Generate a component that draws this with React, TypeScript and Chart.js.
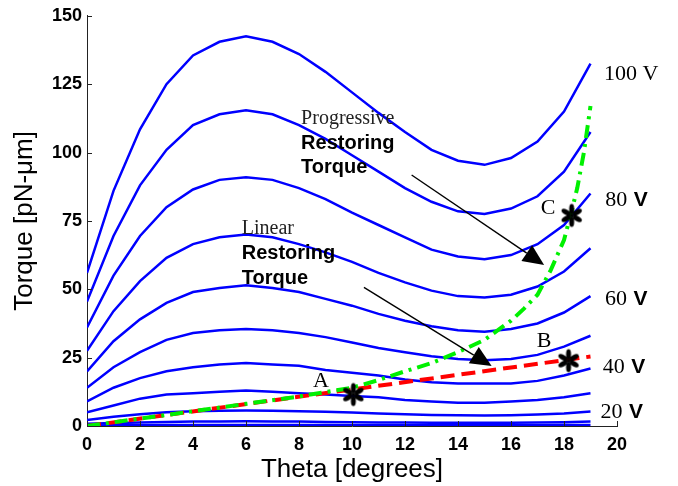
import React, { useEffect, useRef } from 'react';
import { Chart, registerables } from 'chart.js';
Chart.register(...registerables);

// ---- data ----
const THETA = [0, 1, 2, 3, 4, 5, 6, 7, 8, 9, 10, 11, 12, 13, 14, 15, 16, 17, 18, 19];
const T100 = [56, 86, 108.5, 125, 135.5, 140.5, 142.5, 140.5, 136, 129.5, 122, 114.5, 107.5, 101, 97, 95.5, 98, 104, 115, 132.5];
const T90 = [45.5, 69.5, 88, 101, 110, 114, 115.5, 114, 110, 105, 99, 93, 87, 82, 78.5, 77.5, 79.5, 84, 93, 107.5];
const T80 = [36, 55, 69.5, 80, 86.5, 90, 91, 90, 87, 83, 78, 73.5, 69, 64.5, 62, 61, 62.5, 66.5, 73.5, 85];
const T70 = [27.5, 42, 53, 61.5, 66.5, 69, 70, 69, 66.5, 63.5, 60, 56, 52.5, 49.5, 47.5, 47, 48, 51, 56.5, 65];
const T60 = [20, 31, 39, 45, 49, 50.5, 51.5, 50.5, 49, 46.5, 44, 41, 38.5, 36.5, 35, 34.5, 35.5, 37.5, 41.5, 47.5];
const T50 = [14, 21.5, 27, 31.5, 34, 35, 35.5, 35, 34, 32.5, 30.5, 28.5, 27, 25.5, 24.5, 24, 24.5, 26, 29, 33];
const T40 = [9, 14, 17.5, 20, 21.5, 22.5, 23, 22.5, 22, 20.5, 19.5, 18.5, 17, 16, 15.5, 15.5, 15.5, 16.5, 18.5, 21];
const T30 = [5, 7.5, 10, 11.5, 12, 12.5, 13, 12.5, 12, 11.5, 11, 10.5, 9.5, 9, 8.5, 8.5, 9, 9.5, 10.5, 12];
const T20 = [2.2, 3.4, 4.3, 5, 5.4, 5.6, 5.7, 5.6, 5.4, 5.2, 4.9, 4.6, 4.3, 4, 3.9, 3.8, 3.9, 4.2, 4.6, 5.3];
const T10 = [0.8, 1.1, 1.3, 1.5, 1.6, 1.6, 1.7, 1.6, 1.6, 1.5, 1.4, 1.3, 1.3, 1.2, 1.2, 1.2, 1.2, 1.3, 1.4, 1.6];
const T5 = [0.2, 0.3, 0.3, 0.4, 0.4, 0.4, 0.4, 0.4, 0.4, 0.4, 0.3, 0.3, 0.3, 0.3, 0.3, 0.3, 0.3, 0.3, 0.4, 0.4];

const LINEAR_X = [0, 19];
const LINEAR_Y = [0, 25.4];
const PROG_X = [0, 2, 4, 6, 8, 10, 11, 12, 13, 14, 15, 16, 16.5, 17, 17.5, 18, 18.3, 18.5, 18.75, 19];
const PROG_Y = [0, 2.7, 5.4, 8.1, 10.8, 14, 16.8, 20, 23, 27, 31.5, 38.5, 43, 48, 57, 68, 79, 87, 100, 117];

const MARK_X = [10.05, 18.17, 18.29];
const MARK_Y = [11.5, 23.9, 77];
const MARK_NAMES = ['A', 'B', 'C'];
const MARK_NAME_X = [8.53, 16.97, 17.12];
const MARK_NAME_Y = [14.1, 29, 77.6];

const VOLT_NUMS = ['100', '80', '60', '40', '20'];
const VOLT_X = [19.51, 19.56, 19.55, 19.46, 19.38];
const VOLT_Y = [126.6, 80.4, 44.2, 19.3, 2.8];

const NOTE_SMALL = ['Progressive', 'Linear'];
const NOTE_X = [8.08, 5.84];
const NOTE_Y_SMALL = [110.5, 70.1];
const NOTE_Y_LINE1 = [101.3, 60.9];
const NOTE_Y_LINE2 = [92.4, 52];
const NOTE_BOLD1 = 'Restoring';
const NOTE_BOLD2 = 'Torque';

const ARROW_FROM_X = [12.25, 10.45];
const ARROW_FROM_Y = [91.8, 50.7];
const ARROW_TO_X = [17.25, 15.27];
const ARROW_TO_Y = [58.9, 21.9];

const X_TICKS = [0, 2, 4, 6, 8, 10, 12, 14, 16, 18, 20];
const Y_TICKS = [0, 25, 50, 75, 100, 125, 150];

const SANS = '"Liberation Sans", Arial, sans-serif';
const SERIF = '"Liberation Serif", "Times New Roman", serif';

function makeAsterisk(): HTMLCanvasElement {
  const c = document.createElement('canvas');
  c.width = 26;
  c.height = 26;
  const g = c.getContext('2d')!;
  g.fillStyle = '#000';
  g.translate(13, 13);
  for (let i = 0; i < 6; i++) {
    const a = (-90 + i * 60) * Math.PI / 180;
    g.beginPath();
    g.ellipse(Math.cos(a) * 6.5, Math.sin(a) * 6.5, 5, 2.5, a, 0, Math.PI * 2);
    g.fill();
  }
  g.beginPath();
  g.arc(0, 0, 2, 0, Math.PI * 2);
  g.fill();
  return c;
}

const overlay = {
  id: 'overlay',
  afterDatasetsDraw(chart: any) {
    const ctx = chart.ctx as CanvasRenderingContext2D;
    const xs = chart.scales.x;
    const ys = chart.scales.y;
    const area = chart.chartArea;
    ctx.save();
    // inward tick marks
    ctx.strokeStyle = '#222';
    ctx.lineWidth = 1;
    X_TICKS.forEach((t) => {
      const px = Math.round(xs.getPixelForValue(t)) + 0.5;
      ctx.beginPath();
      ctx.moveTo(px, area.bottom);
      ctx.lineTo(px, area.bottom - 5);
      ctx.stroke();
    });
    Y_TICKS.forEach((t) => {
      const py = Math.round(ys.getPixelForValue(t)) + 0.5;
      ctx.beginPath();
      ctx.moveTo(area.left, py);
      ctx.lineTo(area.left + 5, py);
      ctx.stroke();
    });
    // arrows
    ARROW_FROM_X.forEach((fx, i) => {
      const x1 = xs.getPixelForValue(fx);
      const y1 = ys.getPixelForValue(ARROW_FROM_Y[i]);
      const x2 = xs.getPixelForValue(ARROW_TO_X[i]);
      const y2 = ys.getPixelForValue(ARROW_TO_Y[i]);
      const ang = Math.atan2(y2 - y1, x2 - x1);
      const len = 21;
      const hw = 9.5;
      const bx = x2 - Math.cos(ang) * len;
      const by = y2 - Math.sin(ang) * len;
      ctx.strokeStyle = '#000';
      ctx.lineWidth = 1.4;
      ctx.beginPath();
      ctx.moveTo(x1, y1);
      ctx.lineTo(bx, by);
      ctx.stroke();
      ctx.fillStyle = '#000';
      ctx.beginPath();
      ctx.moveTo(x2, y2);
      ctx.lineTo(bx - Math.sin(ang) * hw, by + Math.cos(ang) * hw);
      ctx.lineTo(bx + Math.sin(ang) * hw, by - Math.cos(ang) * hw);
      ctx.closePath();
      ctx.fill();
    });
    // texts
    ctx.fillStyle = '#000';
    ctx.textAlign = 'left';
    ctx.textBaseline = 'alphabetic';
    NOTE_SMALL.forEach((s, i) => {
      const px = xs.getPixelForValue(NOTE_X[i]);
      ctx.font = `20px ${SERIF}`;
      ctx.fillStyle = '#222';
      ctx.fillText(s, px, ys.getPixelForValue(NOTE_Y_SMALL[i]));
      ctx.fillStyle = '#000';
      ctx.font = `bold 20px ${SANS}`;
      ctx.fillText(NOTE_BOLD1, px, ys.getPixelForValue(NOTE_Y_LINE1[i]));
      ctx.fillText(NOTE_BOLD2, px, ys.getPixelForValue(NOTE_Y_LINE2[i]));
    });
    ctx.font = `22px ${SERIF}`;
    MARK_NAMES.forEach((s, i) => {
      ctx.fillText(s, xs.getPixelForValue(MARK_NAME_X[i]), ys.getPixelForValue(MARK_NAME_Y[i]));
    });
    VOLT_NUMS.forEach((s, i) => {
      const px = xs.getPixelForValue(VOLT_X[i]);
      const py = ys.getPixelForValue(VOLT_Y[i]);
      ctx.font = `22px ${SERIF}`;
      if (i === 0) {
        ctx.fillText(s + ' V', px, py);
      } else {
        const w = ctx.measureText(s + ' ').width;
        ctx.fillText(s, px, py);
        ctx.font = `bold 21px ${SANS}`;
        ctx.fillText('V', px + w + 1, py);
      }
    });
    ctx.restore();
  },
};

export default function App() {
  const ref = useRef<HTMLCanvasElement>(null);
  useEffect(() => {
    const blueSeries = [T100, T90, T80, T70, T60, T50, T40, T30, T20, T10, T5];
    const blue = blueSeries.map((arr, k) => ({
      label: 'V' + k,
      data: THETA.map((t, i) => ({ x: t, y: arr[i] })),
      borderColor: '#0000ff',
      borderWidth: 2.5,
      pointRadius: 0,
      fill: false,
      order: 5,
    }));
    const chart = new Chart(ref.current!, {
      type: 'line',
      data: {
        datasets: [
          {
            label: 'marks',
            data: MARK_X.map((x, i) => ({ x, y: MARK_Y[i] })),
            showLine: false,
            pointStyle: makeAsterisk() as any,
            pointRadius: 13,
            borderColor: '#000',
            backgroundColor: '#000',
            order: 0,
          } as any,
          {
            label: 'progressive',
            data: PROG_X.map((x, i) => ({ x, y: PROG_Y[i] })),
            borderColor: '#00f000',
            borderWidth: 4,
            borderDash: [13, 6, 3, 6],
            pointRadius: 0,
            fill: false,
            order: 1,
          },
          {
            label: 'linear',
            data: LINEAR_X.map((x, i) => ({ x, y: LINEAR_Y[i] })),
            borderColor: '#ff0000',
            borderWidth: 4,
            borderDash: [14, 7],
            pointRadius: 0,
            fill: false,
            order: 2,
          },
          ...blue,
        ],
      },
      options: {
        animation: false,
        responsive: false,
        devicePixelRatio: 1,
        layout: { padding: { left: 0, top: 12, right: 61, bottom: 0 } },
        plugins: { legend: { display: false }, tooltip: { enabled: false } },
        scales: {
          x: {
            type: 'linear',
            min: 0,
            max: 20,
            grid: { display: false, drawTicks: false },
            border: { display: true, color: '#222', width: 1 },
            ticks: {
              stepSize: 2,
              padding: 8,
              color: '#000',
              font: { family: SANS, size: 18, weight: 'bold' },
            },
            title: {
              display: true,
              text: 'Theta [degrees]',
              color: '#000',
              font: { family: SANS, size: 26 },
              padding: { top: 0, bottom: 1 },
            },
            afterFit: (s: any) => { s.height = 60; },
          },
          y: {
            type: 'linear',
            min: 0,
            max: 150,
            grid: { display: false, drawTicks: false },
            border: { display: true, color: '#222', width: 1 },
            ticks: {
              stepSize: 25,
              padding: 5,
              color: '#000',
              font: { family: SANS, size: 18, weight: 'bold' },
            },
            title: {
              display: true,
              text: 'Torque [pN-\u03bcm]',
              color: '#000',
              font: { family: SANS, size: 26 },
              padding: { top: 9, bottom: 0 },
            },
            afterFit: (s: any) => { s.width = 87; },
          },
        },
      },
      plugins: [overlay],
    } as any);
    return () => chart.destroy();
  }, []);
  return (
    <div style={{ position: 'fixed', left: 0, top: 0, width: 678, height: 486, background: '#fff' }}>
      <canvas ref={ref} width={678} height={486} style={{ display: 'block' }} />
    </div>
  );
}
